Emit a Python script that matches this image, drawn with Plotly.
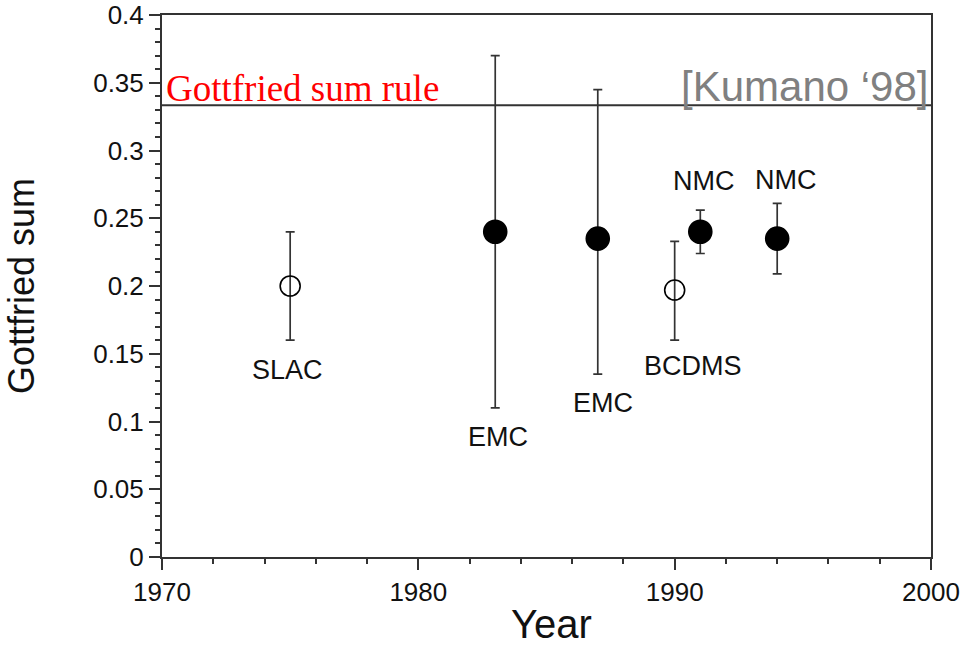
import plotly.graph_objects as go

# Measurements of the Gottfried sum by year
experiments = ["SLAC", "EMC", "EMC", "BCDMS", "NMC", "NMC"]
years = [1975, 1983, 1987, 1990, 1991, 1994]
gottfried = [0.200, 0.240, 0.235, 0.197, 0.240, 0.235]
err_plus = [0.040, 0.130, 0.110, 0.036, 0.016, 0.026]
err_minus = [0.040, 0.130, 0.100, 0.037, 0.016, 0.026]
filled = [False, True, True, False, True, True]

# Quark-parton model prediction (flavour-symmetric sea)
sum_rule = 1.0 / 3.0

# Where each experiment's name is written (data coordinates)
label_x = [1974.88, 1983.09, 1987.19, 1990.70, 1991.13, 1994.34]
label_y = [0.138, 0.0886, 0.1137, 0.141, 0.2775, 0.278]

AXIS_COLOR = "#333333"
TEXT_COLOR = "#111111"
SANS = "Liberation Sans, Arial, Helvetica, sans-serif"

fig = go.Figure()

for want_filled in (False, True):
    idx = [i for i, f in enumerate(filled) if f == want_filled]
    fig.add_trace(go.Scatter(
        x=[years[i] for i in idx],
        y=[gottfried[i] for i in idx],
        mode="markers",
        marker=dict(
            symbol="circle" if want_filled else "circle-open",
            size=23 if want_filled else 20,
            color="black",
            line=dict(width=1.6, color="black"),
        ),
        error_y=dict(
            type="data", symmetric=False,
            array=[err_plus[i] for i in idx],
            arrayminus=[err_minus[i] for i in idx],
            color=AXIS_COLOR, thickness=1.7, width=4.5,
        ),
        showlegend=False,
        hoverinfo="x+y",
    ))

# Sum-rule line across the full width
fig.add_trace(go.Scatter(
    x=[1970, 2000], y=[sum_rule, sum_rule], mode="lines",
    line=dict(color=AXIS_COLOR, width=2), showlegend=False, hoverinfo="skip",
))

for name, lx, ly in zip(experiments, label_x, label_y):
    fig.add_annotation(x=lx, y=ly, text=name, showarrow=False,
                       font=dict(family=SANS, size=27, color=TEXT_COLOR))

fig.add_annotation(x=0, xref="paper", y=0.3454, xanchor="left", xshift=2,
                   text="Gottfried sum rule", showarrow=False,
                   font=dict(family="Liberation Serif, Times New Roman, serif",
                             size=37, color="#ff0000"))
fig.add_annotation(x=1, xref="paper", y=0.3469, xanchor="right", xshift=0,
                   text="[Kumano \u201898]", showarrow=False,
                   font=dict(family=SANS, size=42, color="#808080"))

# x-axis title placed below the tick labels
fig.add_annotation(x=0.5, xref="paper", y=-0.124, yref="paper", xshift=5,
                   yanchor="middle", text="Year", showarrow=False,
                   font=dict(family=SANS, size=40, color=TEXT_COLOR))

axis_common = dict(
    showgrid=False, zeroline=False, showline=True, mirror=True,
    linecolor=AXIS_COLOR, linewidth=2,
    ticks="outside", tickcolor=AXIS_COLOR, tickwidth=1.5,
    tickfont=dict(family=SANS, size=26, color=TEXT_COLOR),
)

fig.update_xaxes(
    range=[1970, 2000], dtick=10, ticklen=11,
    minor=dict(dtick=2, ticks="outside", ticklen=5, tickcolor=AXIS_COLOR, tickwidth=1.5),
    **axis_common,
)
fig.update_yaxes(
    range=[0, 0.4], dtick=0.05, ticklen=11,
    minor=dict(dtick=0.01, ticks="outside", ticklen=5, tickcolor=AXIS_COLOR, tickwidth=1.5),
    title=dict(text="Gottfried sum", font=dict(family=SANS, size=36, color=TEXT_COLOR), standoff=48),
    **axis_common,
)

fig.update_layout(
    width=960, height=647,
    margin=dict(l=162, r=29, t=15, b=90, autoexpand=False),
    plot_bgcolor="white", paper_bgcolor="white",
)

fig.write_html("out.html")
